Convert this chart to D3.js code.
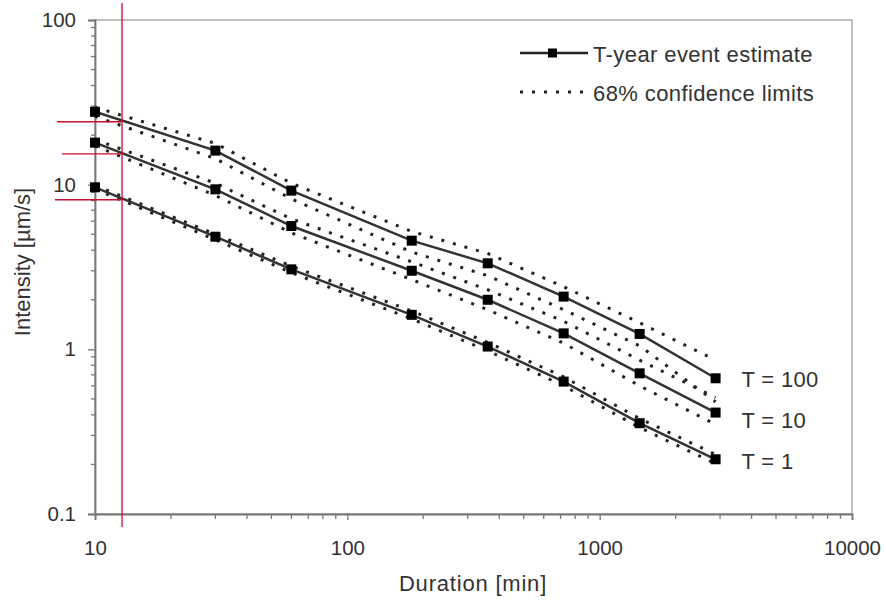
<!DOCTYPE html>
<html><head><meta charset="utf-8">
<script src="https://cdn.jsdelivr.net/npm/d3@7"></script>
<style>
body{margin:0;background:#fff;}
svg text{font-family:"Liberation Sans",Arial,sans-serif;fill:#333;}
</style></head>
<body><svg id="c" width="886" height="600"></svg>
<script>
const durations = [10, 30, 60, 180, 360, 720, 1440, 2880];
const seriesNames = ["T = 100", "T = 10", "T = 1"];
const est100 = [27.7, 16.1, 9.2, 4.57, 3.33, 2.09, 1.24, 0.667];
const up100  = [29.5, 17.8, 10.2, 5.2, 3.82, 2.4, 1.45, 0.86];
const lo100  = [26.0, 14.4, 8.2, 3.9, 2.8, 1.74, 1.05, 0.48];
const est10  = [18.0, 9.37, 5.61, 3.0, 2.0, 1.25, 0.715, 0.413];
const up10   = [18.8, 10.2, 6.2, 3.4, 2.3, 1.48, 0.86, 0.51];
const lo10   = [17.2, 8.6, 5.1, 2.65, 1.74, 1.09, 0.6, 0.35];
const est1   = [9.64, 4.83, 3.06, 1.62, 1.04, 0.637, 0.356, 0.215];
const up1    = [9.9, 5.0, 3.2, 1.71, 1.1, 0.68, 0.38, 0.23];
const lo1    = [9.4, 4.63, 2.92, 1.53, 0.98, 0.6, 0.335, 0.202];
const xTicks = [10, 100, 1000, 10000];
const yTicks = [0.1, 1, 10, 100];
const refDuration = 12.8;
const refIntensities = [24.1, 15.4, 8.1];
const legendLabels = ["T-year event estimate", "68% confidence limits"];

const svg = d3.select("#c");
const x = d3.scaleLog().domain([10, 10000]).range([95, 852]);
const y = d3.scaleLog().domain([0.1, 100]).range([514, 20]);

// frame
svg.append("rect").attr("x", 95).attr("y", 20).attr("width", 852-95).attr("height", 494)
  .attr("fill", "none").attr("stroke", "#aaa").attr("stroke-width", 1.5);

// minor ticks
const minorX = [], minorY = [];
for (let d = 10; d < 10000; d *= 10) for (let k = 2; k <= 9; k++) minorX.push(d*k);
for (let d = 0.1; d < 99; d *= 10) for (let k = 2; k <= 9; k++) minorY.push(+(d*k).toPrecision(3));

const xAxis = svg.append("g").attr("transform", "translate(0,514)")
  .call(d3.axisBottom(x).tickValues(xTicks).tickFormat(d3.format("d")).tickSize(6).tickPadding(20));
xAxis.append("g").selectAll("line").data(minorX).join("line")
  .attr("x1", d => x(d)).attr("x2", d => x(d)).attr("y1", 0).attr("y2", 5).attr("stroke", "#777").attr("stroke-width", 1.3);
const yAxis = svg.append("g").attr("transform", "translate(95,0)")
  .call(d3.axisLeft(y).tickValues(yTicks).tickFormat(d => d3.format("~g")(d)).tickSize(7).tickPadding(12));
yAxis.append("g").selectAll("line").data(minorY).join("line")
  .attr("y1", d => y(d)).attr("y2", d => y(d)).attr("x1", -4).attr("x2", 0).attr("stroke", "#777").attr("stroke-width", 1.3);
[xAxis, yAxis].forEach(a => {
  a.select(".domain").attr("stroke", "#777").attr("stroke-width", 1.8);
  a.selectAll(".tick line").attr("stroke", "#777").attr("stroke-width", 1.3);
  a.selectAll(".tick text").attr("font-size", 20.5).attr("fill", "#222").attr("font-family", "Liberation Sans, Arial, sans-serif");
});

// axis titles
svg.append("text").attr("x", 473).attr("y", 591).attr("text-anchor", "middle").attr("font-size", 22)
  .attr("letter-spacing", 0.8).attr("fill", "#222").text("Duration [min]");
svg.append("text").attr("transform", "translate(30,262) rotate(-90)").attr("text-anchor", "middle").attr("font-size", 22)
  .attr("fill", "#222").text("Intensity [µm/s]");

const line = d3.line().x(d => x(d[0])).y(d => y(d[1]));
const ests = [est100, est10, est1], ups = [up100, up10, up1], los = [lo100, lo10, lo1];

// confidence limits
[...ups, ...los].forEach(arr => {
  svg.append("path").datum(durations.map((d, i) => [d, arr[i]])).attr("d", line)
    .attr("fill", "none").attr("stroke", "#222").attr("stroke-width", 3).attr("stroke-dasharray", "3 9");
});
// estimates
const labelDy = [1, 8, 2];
ests.forEach((arr, si) => {
  const pts = durations.map((d, i) => [d, arr[i]]);
  svg.append("path").datum(pts).attr("d", line).attr("fill", "none").attr("stroke", "#333").attr("stroke-width", 2.5);
  svg.append("g").selectAll("rect").data(pts).join("rect")
    .attr("x", d => x(d[0]) - 5).attr("y", d => y(d[1]) - 5).attr("width", 10).attr("height", 10).attr("fill", "#000");
  const last = pts[pts.length - 1];
  svg.append("text").attr("x", x(last[0]) + 26).attr("y", y(last[1]) + labelDy[si]).attr("dominant-baseline", "central")
    .attr("font-size", 22).attr("letter-spacing", 0.3).attr("fill", "#222").text(seriesNames[si]);
});

// red reference lines
svg.append("line").attr("x1", x(refDuration)).attr("x2", x(refDuration)).attr("y1", 3).attr("y2", 527)
  .attr("stroke", "#c8102e").attr("stroke-width", 1.3);
const refStarts = [57, 62, 55];
refIntensities.forEach((v, i) => {
  svg.append("line").attr("x1", refStarts[i]).attr("x2", x(refDuration)).attr("y1", y(v)).attr("y2", y(v))
    .attr("stroke", "#c8102e").attr("stroke-width", 1.3);
});

// legend
const lg = svg.append("g");
lg.append("line").attr("x1", 520).attr("x2", 588).attr("y1", 53).attr("y2", 53).attr("stroke", "#222").attr("stroke-width", 2.5);
lg.append("rect").attr("x", 548).attr("y", 48.5).attr("width", 9).attr("height", 9).attr("fill", "#000");
lg.append("line").attr("x1", 520).attr("x2", 590).attr("y1", 92).attr("y2", 92).attr("stroke", "#222").attr("stroke-width", 3).attr("stroke-dasharray", "3 9");
legendLabels.forEach((t, i) => {
  lg.append("text").attr("x", 593).attr("y", i === 0 ? 54 : 93).attr("dominant-baseline", "central")
    .attr("font-size", 22).attr("letter-spacing", 0.4).attr("fill", "#222").text(t);
});
</script></body></html>
